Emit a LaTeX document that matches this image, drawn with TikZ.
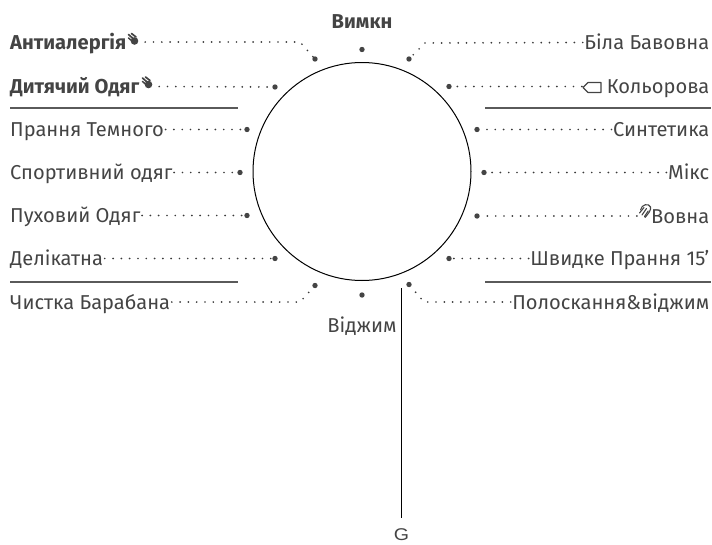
\documentclass[tikz,border=0pt]{standalone}
\usepackage{fontspec}
\setmainfont{Fira Sans}
\newfontfamily\gfont{Liberation Sans}
\definecolor{ink}{HTML}{444444}
\definecolor{rulecol}{HTML}{5A5A5A}
\tikzset{
  lab/.style={text=ink,font=\fontsize{20.1}{22}\selectfont,inner sep=0pt,inner xsep=1.5pt,text height=14pt,text depth=0pt},
  labl/.style={lab,anchor=west},
  labr/.style={lab,anchor=east},
  boldlab/.style={font=\fontsize{20.1}{22}\selectfont\bfseries},
  spot/.style={circle,fill=ink,inner sep=0pt,minimum size=5.4pt},
  dots/.style={draw=ink!85!black,line width=1.9pt,line cap=round,dash pattern=on 0pt off 8.3pt},
  sep/.style={draw=rulecol,line width=1.6pt},
  slot/.style={inner sep=0pt,minimum width=0pt,minimum height=0pt},
  hand/.pic={
    \fill[ink] (1.5,2) circle (3.8pt);
    \draw[ink,line width=1.7pt,line cap=round] (-4.5,-4.5) -- (0,-0.5);
    \draw[ink,line width=1.7pt,line cap=round] (-1.5,-5.5) -- (3,-2);
    \draw[ink,line width=1.5pt,line cap=round] (-4.5,-1) -- (-1,2);
  },
  tagicon/.pic={
    \draw[ink,line width=1.1pt,line join=round] (-9,0) -- (-4,-5) -- (9,-5) -- (9,5) -- (-4,5) -- cycle;
  },
  woolicon/.pic={
    \draw[ink,line width=1.1pt,line cap=round] (-4.5,-1) .. controls (-3.5,-7) and (4,-8) .. (5.5,-4) .. controls (6.5,-1) and (3,3) .. (0,6.5);
    \draw[ink,line width=1.1pt,line cap=round] (-3,4) -- (1.5,-2.5);
    \draw[ink,line width=1.1pt,line cap=round] (-5.5,2) -- (-1,-3.5);
    \draw[ink,line width=1.1pt,line cap=round] (-0.5,5.5) -- (3.2,0);
  },
}
\begin{document}
\begin{tikzpicture}[x=1pt,y=-1pt]
\useasboundingbox (0,0) rectangle (712,544);
% wheel
\node[circle,draw=black,line width=1pt,minimum size=218pt,inner sep=0pt] (wheel) at (362,171.5) {};
% dots
\node[spot] (dA) at (315,59) {};
\node[spot] (dB) at (275,87) {};
\node[spot] (dC) at (247,129.5) {};
\node[spot] (dD) at (240,172.5) {};
\node[spot] (dE) at (247,215.5) {};
\node[spot] (dF) at (275,258.5) {};
\node[spot] (dG) at (315,285.5) {};
\node[spot] (dS) at (362,295) {};
\node[spot] (dH) at (409,284.5) {};
\node[spot] (dI) at (449,258.5) {};
\node[spot] (dJ) at (477,216) {};
\node[spot] (dK) at (484,172.5) {};
\node[spot] (dL) at (477,129.5) {};
\node[spot] (dM) at (449,86.5) {};
\node[spot] (dN) at (409,59) {};
\node[spot] (dT) at (362,49.5) {};
% labels
\node[labl,boldlab] (lA) at (8.5,42) {Антиалергія};
\node[labl,boldlab] (lB) at (8.5,86.5) {Дитячий Одяг};
\node[labl] (lC) at (8.5,129.5) {Прання Темного};
\node[labl] (lD) at (8.5,172.5) {Спортивний одяг};
\node[labl] (lE) at (8.5,215.5) {Пуховий Одяг};
\node[labl] (lF) at (8.5,258.5) {Делікатна};
\node[labl] (lG) at (8.5,302) {Чистка Барабана};
\node[labr] (lN) at (711,42.5) {Біла Бавовна};
\node[labr] (lM) at (711,86.5) {Кольорова};
\node[labr] (lL) at (711,129.5) {Синтетика};
\node[labr] (lK) at (711,172.5) {Мікс};
\node[labr] (lJ) at (711,216) {Вовна};
\node[labr] (lI) at (711,258.5) {Швидке Прання 15’};
\node[labr] (lH) at (711,302) {Полоскання\&віджим};
\node[lab,boldlab,anchor=center] (lT) at (362,21) {Вимкн};
\node[lab,anchor=center] (lS) at (362,325.5) {Віджим};
% icons
\node[slot] (iA) at (145,42) {};
\node[slot] (iB) at (159,86.5) {};
\node[slot] (iM) at (582,86.5) {};
\node[slot] (iJ) at (637,216) {};
\pic at (133,39) {hand};
\pic at (147,82.5) {hand};
\pic at (592,87.5) {tagicon};
\pic at (645,211) {woolicon};
% bends
\coordinate (bA) at (300,42);
\coordinate (bG) at (300,302);
\coordinate (bH) at (424,302);
\coordinate (bN) at (425,43);
% connectors
\draw[dots] (iA) -- (bA) -- (dA);
\draw[dots] (iB) -- (dB);
\draw[dots] (lC.east) -- (dC);
\draw[dots] (lD.east) -- (dD);
\draw[dots] (lE.east) -- (dE);
\draw[dots] (lF.east) -- (dF);
\draw[dots] (lG.east) -- (bG) -- (dG);
\draw[dots] (lH.west) -- (bH) -- (dH);
\draw[dots] (lI.west) -- (dI);
\draw[dots] (iJ) -- (dJ);
\draw[dots] (lK.west) -- (dK);
\draw[dots] (lL.west) -- (dL);
\draw[dots] (iM) -- (dM);
\draw[dots] (lN.west) -- (bN) -- (dN);
% rules
\coordinate (r1a) at (10,107.7); \coordinate (r1b) at (238,107.7);
\coordinate (r2a) at (10,281.7); \coordinate (r2b) at (238,281.7);
\coordinate (r3a) at (485,107.7); \coordinate (r3b) at (711,107.7);
\coordinate (r4a) at (485,281.7); \coordinate (r4b) at (711,281.7);
\draw[sep] (r1a) -- (r1b);
\draw[sep] (r2a) -- (r2b);
\draw[sep] (r3a) -- (r3b);
\draw[sep] (r4a) -- (r4b);
% G lead
\node[text=ink,font=\gfont\fontsize{17}{19}\selectfont,inner sep=0pt,xscale=1.15,anchor=base] (g) at (401.5,540) {G};
\coordinate (gtop) at (401.5,288);
\coordinate (gend) at (401.5,518);
\draw[black,line width=1.2pt] (gtop) -- (gend);
\end{tikzpicture}
\end{document}
